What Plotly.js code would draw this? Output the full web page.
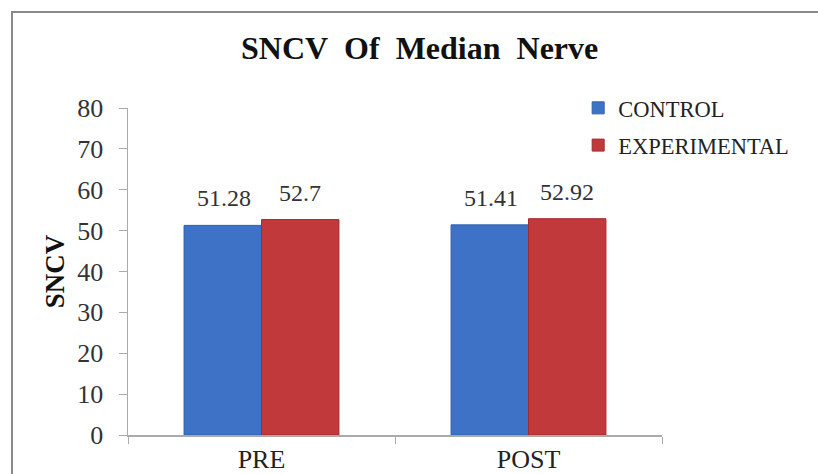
<!DOCTYPE html>
<html>
<head>
<meta charset="utf-8">
<script src="https://cdn.plot.ly/plotly-3.0.1.min.js"></script>
<style>
html,body{margin:0;padding:0;background:#fff;overflow:hidden;}
#wrap{position:relative;width:818px;height:474px;}
#chart{width:818px;height:474px;}
#frame{position:absolute;left:11px;top:11px;width:900px;height:600px;border-left:2px solid #8a8a8a;border-top:2px solid #8a8a8a;pointer-events:none;}
</style>
</head>
<body>
<div id="wrap"><div id="chart"></div><div id="frame"></div></div>
<script>
var categories = ["PRE", "POST"];
var seriesNames = ["CONTROL", "EXPERIMENTAL"];
var controlValues = [51.28, 51.41];
var experimentalValues = [52.7, 52.92];
var controlLabels = ["51.28", "51.41"];
var experimentalLabels = ["52.7", "52.92"];
var yTicks = [0, 10, 20, 30, 40, 50, 60, 70, 80];

var serif = "Liberation Serif";
var colors = ["#3e72c6", "#c1393b"];

var traces = [
  {type: "bar", name: seriesNames[0], x: categories, y: controlValues,
   marker: {color: colors[0], line: {color: "#2f5ea8", width: 1}}, legendgroup: "a", hoverinfo: "none"},
  {type: "bar", name: seriesNames[1], x: categories, y: experimentalValues,
   marker: {color: colors[1], line: {color: "#a02c2e", width: 1}}, legendgroup: "b", hoverinfo: "none"}
];

var annotations = [];
var seriesVals = [controlValues, experimentalValues];
var seriesLabs = [controlLabels, experimentalLabels];
for (var s = 0; s < 2; s++) {
  for (var i = 0; i < categories.length; i++) {
    annotations.push({
      x: categories[i], y: seriesVals[s][i], xref: "x", yref: "y",
      text: seriesLabs[s][i], showarrow: false,
      xshift: s === 0 ? -38 : 38, yshift: 27, yanchor: "middle",
      font: {family: serif, size: 24, color: "#333"}
    });
  }
}

var layout = {
  width: 818, height: 474,
  font: {family: serif, color: "#222"},
  margin: {l: 128, r: 156, t: 108, b: 39},
  paper_bgcolor: "#fff", plot_bgcolor: "#fff",
  title: {text: "SNCV\u00a0 Of\u00a0 Median\u00a0 Nerve", x: 0.513, xanchor: "center", y: 0.9, yanchor: "middle",
          font: {family: serif, size: 32, color: "#111", weight: "bold"}},
  barmode: "group", bargap: 0.42, bargroupgap: 0,
  showlegend: true,
  legend: {x: 0.843, y: 1.065, xanchor: "left", yanchor: "top", traceorder: "grouped", tracegroupgap: 5,
           font: {family: serif, size: 22.5, color: "#222"}, bgcolor: "rgba(0,0,0,0)", itemwidth: 30},
  xaxis: {type: "category", showline: true, linecolor: "#aaa", linewidth: 1.5,
          ticks: "outside", tickson: "boundaries", ticklen: 7, tickcolor: "#aaa",
          tickfont: {family: serif, size: 26, color: "#222"}, showgrid: false, zeroline: false},
  yaxis: {range: [0, 80], tickvals: yTicks, showline: true, linecolor: "#aaa", linewidth: 1.5,
          ticks: "outside", ticklen: 8, tickcolor: "#aaa", ticklabelstandoff: 10,
          tickfont: {family: serif, size: 26, color: "#333"}, showgrid: false, zeroline: false,
          title: {text: "SNCV", standoff: 5, font: {family: serif, size: 27, color: "#111", weight: "bold"}}},
  annotations: annotations
};

Plotly.newPlot("chart", traces, layout, {displayModeBar: false, staticPlot: true});
</script>
</body>
</html>
